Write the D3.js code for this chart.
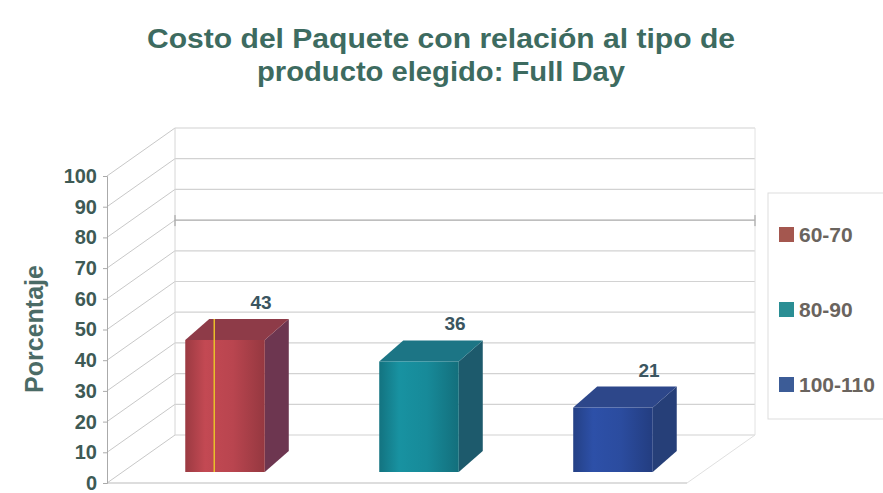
<!DOCTYPE html>
<html>
<head>
<meta charset="utf-8">
<script src="https://cdn.jsdelivr.net/npm/d3@7"></script>
<style>
  body { margin: 0; background: #fff; }
  svg { font-family: Arial, 'Liberation Sans', sans-serif; font-weight: bold; }
</style>
</head>
<body>
<svg id="chart" width="883" height="493"></svg>
<script>
const CATEGORIES = ['60-70', '80-90', '100-110']
const VALUES = [43, 36, 21]
const TICKS = [0, 10, 20, 30, 40, 50, 60, 70, 80, 90, 100]
const TITLE = ['Costo del Paquete con relación al tipo de', 'producto elegido: Full Day']
const Y_LABEL = 'Porcentaje'

const COLORS = {
  front: ['#b9454f', '#178a99', '#2b4c9f'],
  side: ['#6d3650', '#1d5a6c', '#263f78'],
  top: ['#8e3b48', '#1c7585', '#2d478a'],
  legend: ['#a4574f', '#2a8e94', '#3c5c97'],
}

// wall depth (back wall offset) and bar offsets
const DEPTH = { dx: 68, dy: -48 }
const BAR_OFF = { dx: 22, dy: -11 }
const BAR_DEPTH = { dx: 24, dy: -21 }

const svg = d3.select('#chart')

const y = d3.scaleLinear().domain([0, 100]).range([483, 176])
const x = d3.scaleBand().domain(CATEGORIES).range([107, 687])
  .paddingInner(0.59).paddingOuter(0.29)

// title (the source image is a bit stretched sideways)
const TITLE_WIDTHS = [588, 368]
svg.append('g').selectAll('text').data(TITLE).join('text')
  .attr('x', 441).attr('y', (d, i) => 48 + i * 33)
  .attr('text-anchor', 'middle')
  .attr('fill', '#3d6b60')
  .attr('font-size', 27)
  .attr('textLength', (d, i) => TITLE_WIDTHS[i])
  .attr('lengthAdjust', 'spacingAndGlyphs')
  .text(d => d)

// walls
const grid = svg.append('g').attr('fill', 'none')
const x0 = x.range()[0], x1 = x.range()[1]
// back wall gridlines
grid.selectAll('line.back').data(TICKS).join('line')
  .attr('class', 'back')
  .attr('x1', x0 + DEPTH.dx).attr('x2', x1 + DEPTH.dx)
  .attr('y1', d => y(d) + DEPTH.dy).attr('y2', d => y(d) + DEPTH.dy)
  .attr('stroke', d => d === 70 ? '#a8a8a8' : '#d2d2d2')
  .attr('stroke-width', 1.2)
// left wall diagonals
grid.selectAll('line.side').data(TICKS).join('line')
  .attr('class', 'side')
  .attr('x1', x0).attr('x2', x0 + DEPTH.dx)
  .attr('y1', d => y(d)).attr('y2', d => y(d) + DEPTH.dy)
  .attr('stroke', '#c8c8c8')
// wall edges
grid.append('line')
  .attr('x1', x0 + DEPTH.dx).attr('x2', x0 + DEPTH.dx)
  .attr('y1', y(100) + DEPTH.dy).attr('y2', y(0) + DEPTH.dy)
  .attr('stroke', '#d6d6d6')
grid.append('line')
  .attr('x1', x1 + DEPTH.dx).attr('x2', x1 + DEPTH.dx)
  .attr('y1', y(100) + DEPTH.dy).attr('y2', y(0) + DEPTH.dy)
  .attr('stroke', '#e2e2e2')
grid.append('line')
  .attr('x1', x1).attr('x2', x1 + DEPTH.dx)
  .attr('y1', y(0)).attr('y2', y(0) + DEPTH.dy)
  .attr('stroke', '#e0e0e0')
// end tick marks on the 70 line
grid.selectAll('line.endtick').data([x0 + DEPTH.dx, x1 + DEPTH.dx]).join('line')
  .attr('x1', d => d).attr('x2', d => d)
  .attr('y1', y(70) + DEPTH.dy - 5).attr('y2', y(70) + DEPTH.dy + 6)
  .attr('stroke', '#999')

// floor front edge
grid.append('line')
  .attr('x1', x0).attr('x2', x1)
  .attr('y1', y(0)).attr('y2', y(0))
  .attr('stroke', '#bbb')

// y axis
const yAxis = svg.append('g')
  .attr('transform', `translate(${x0},0)`)
  .call(d3.axisLeft(y).tickValues(TICKS).tickSize(4).tickPadding(6))
yAxis.select('.domain').attr('stroke', '#aaa')
yAxis.selectAll('.tick line').attr('stroke', '#aaa')
yAxis.selectAll('.tick text')
  .attr('fill', '#3e5a55')
  .attr('font-size', 20)
  .attr('font-weight', 'bold')
  .attr('font-family', 'Arial, Liberation Sans, sans-serif')

svg.append('text')
  .attr('transform', 'translate(43,329) rotate(-90)')
  .attr('text-anchor', 'middle')
  .attr('fill', '#4b6b66')
  .attr('font-size', 25)
  .text(Y_LABEL)

// gradients for bar fronts
const defs = svg.append('defs')
COLORS.front.forEach((c, i) => {
  const g = defs.append('linearGradient').attr('id', 'grad' + i)
  const col = d3.color(c)
  g.append('stop').attr('offset', '0%').attr('stop-color', col.darker(0.5))
  g.append('stop').attr('offset', '25%').attr('stop-color', col.brighter(0.15))
  g.append('stop').attr('offset', '60%').attr('stop-color', col)
  g.append('stop').attr('offset', '100%').attr('stop-color', col.darker(0.6))
})

// bars
const bars = svg.append('g').selectAll('g').data(VALUES).join('g')
bars.each(function (v, i) {
  const g = d3.select(this)
  const left = x(CATEGORIES[i]) + BAR_OFF.dx
  const right = left + x.bandwidth()
  const top = y(v) + BAR_OFF.dy
  const bottom = y(0) + BAR_OFF.dy
  // side
  g.append('path')
    .attr('d', `M${right},${top}L${right + BAR_DEPTH.dx},${top + BAR_DEPTH.dy}L${right + BAR_DEPTH.dx},${bottom + BAR_DEPTH.dy}L${right},${bottom}Z`)
    .attr('fill', COLORS.side[i])
  // top
  g.append('path')
    .attr('d', `M${left},${top}L${left + BAR_DEPTH.dx},${top + BAR_DEPTH.dy}L${right + BAR_DEPTH.dx},${top + BAR_DEPTH.dy}L${right},${top}Z`)
    .attr('fill', COLORS.top[i])
  // front
  g.append('rect')
    .attr('x', left).attr('y', top)
    .attr('width', x.bandwidth()).attr('height', bottom - top)
    .attr('fill', `url(#grad${i})`)
  // value label
  g.append('text')
    .attr('x', left + x.bandwidth() / 2 + 36)
    .attr('y', top + BAR_DEPTH.dy - 10)
    .attr('text-anchor', 'middle')
    .attr('fill', '#3a5560')
    .attr('font-size', 19)
    .text(v)
})

// yellow stray line on first bar
svg.append('line')
  .attr('x1', x(CATEGORIES[0]) + BAR_OFF.dx + 29)
  .attr('x2', x(CATEGORIES[0]) + BAR_OFF.dx + 29)
  .attr('y1', y(VALUES[0]) + BAR_OFF.dy + BAR_DEPTH.dy)
  .attr('y2', y(0) + BAR_OFF.dy)
  .attr('stroke', '#e8c02a').attr('stroke-width', 1.5)

// legend
const legend = svg.append('g')
legend.append('rect')
  .attr('x', 768).attr('y', 193).attr('width', 130).attr('height', 226)
  .attr('fill', '#fff').attr('stroke', '#ddd')
const items = legend.selectAll('g.item').data(CATEGORIES).join('g')
  .attr('class', 'item')
  .attr('transform', (d, i) => `translate(779,${234 + i * 75})`)
items.append('rect')
  .attr('x', 0).attr('y', -7).attr('width', 15).attr('height', 15)
  .attr('fill', (d, i) => COLORS.legend[i])
items.append('text')
  .attr('x', 20).attr('y', 8)
  .attr('fill', '#6a645e')
  .attr('font-size', 21)
  .text(d => d)
</script>
</body>
</html>
